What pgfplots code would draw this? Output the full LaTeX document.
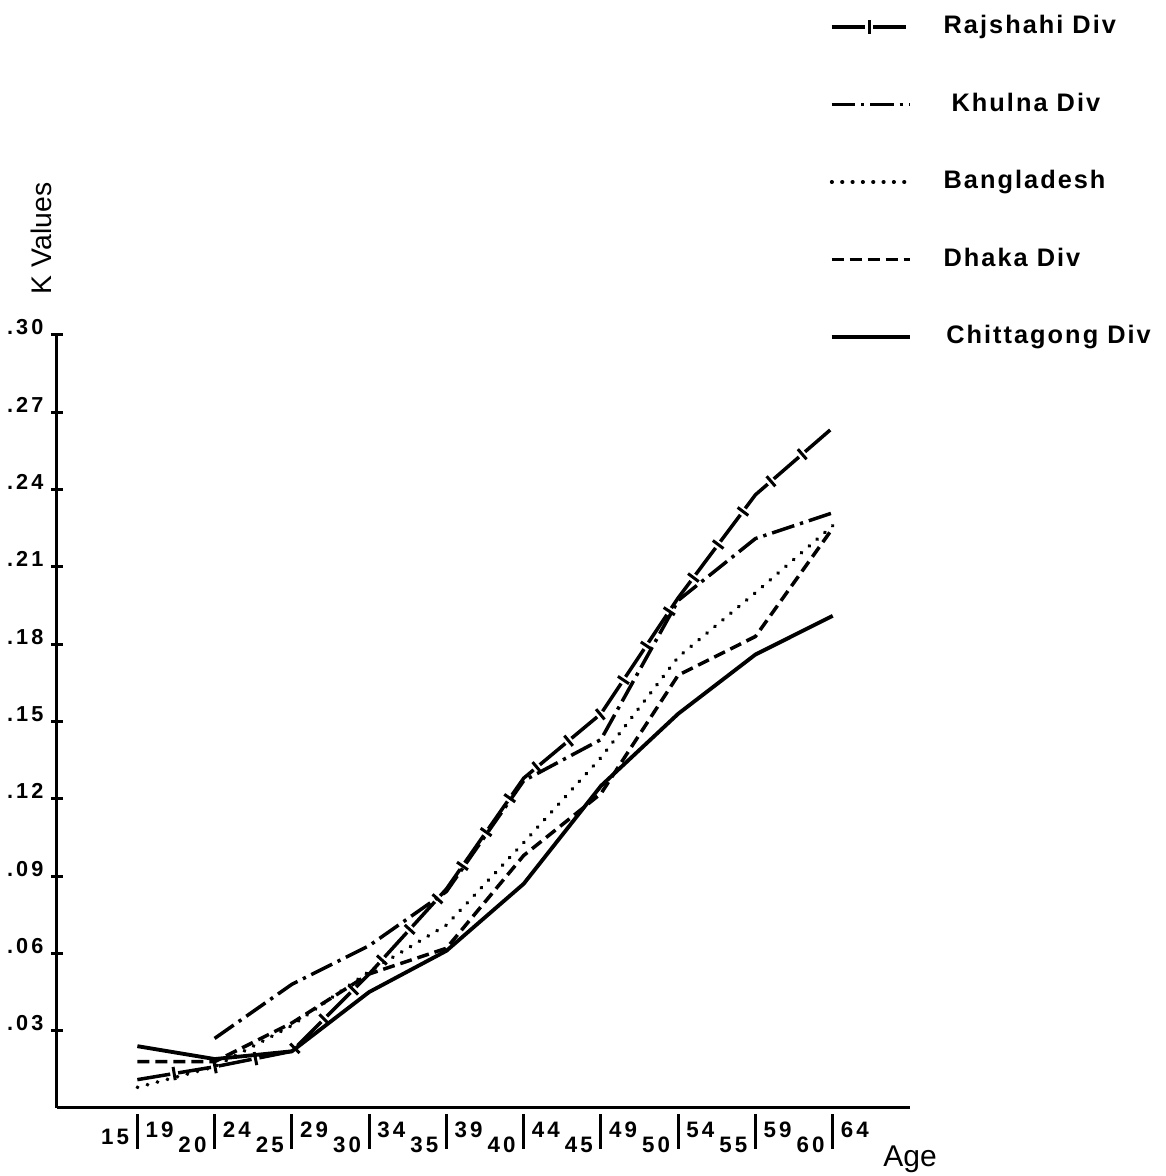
\documentclass[border=0pt]{standalone}
\usepackage{fontspec}
\setmainfont{Liberation Sans}
\newfontfamily\lgfont[LetterSpace=8]{Liberation Sans}
\newfontfamily\tkfont[LetterSpace=14]{Liberation Sans}
\usepackage{pgfplots}
\pgfplotsset{compat=1.18}
\usetikzlibrary{decorations.markings}
\newcommand{\xl}[3][11.4pt]{\makebox[0pt]{\llap{\raisebox{-#1}{#2}\hspace{2pt}}\rule[-10.5pt]{0.9pt}{10.5pt}\rlap{\hspace{2pt}\raisebox{-6.9pt}{#3}}}}
\tikzset{
 raj/.style={line width=1.05pt, dash pattern=on 10pt off 2.4pt, postaction={decorate},
   decoration={markings, mark=between positions 11.2pt and 1 step 12.4pt with {\draw[solid, line width=0.9pt] (0pt,-2pt)--(0pt,2pt);}}},
 khu/.style={line width=1.05pt, dash pattern=on 7pt off 1.8pt on 1pt off 1.8pt},
 ban/.style={line width=1.15pt, line cap=round, dash pattern=on 0.1pt off 3pt},
 dha/.style={line width=1.05pt, dash pattern=on 3.6pt off 1.8pt},
 chi/.style={line width=1.15pt},
}
\begin{document}
\begin{tikzpicture}
\path[use as bounding box] (-17.1pt,-20.4pt) rectangle (332.7pt,332.4pt);
\begin{axis}[
 at={(0pt,0pt)}, anchor=south west,
 scale only axis, width=255.9pt, height=231.9pt,
 xmin=-1.04, xmax=10, ymin=0, ymax=0.30,
 clip=false,
 axis lines=left,
 axis line style={-, line width=0.9pt},
 xtick={0,1,2,3,4,5,6,7,8,9},
 xticklabels={{\xl[9pt]{15}{19}},{\xl{20}{24}},{\xl{25}{29}},{\xl{30}{34}},{\xl{35}{39}},{\xl{40}{44}},{\xl{45}{49}},{\xl{50}{54}},{\xl{55}{59}},{\xl{60}{64}}},
 xtick style={draw=none},
 xticklabel style={anchor=base, inner sep=0pt, font=\tkfont\bfseries\fontsize{6.7pt}{7pt}\selectfont},
 ytick={0.03,0.06,0.09,0.12,0.15,0.18,0.21,0.24,0.27,0.30},
 yticklabels={.03,.06,.09,.12,.15,.18,.21,.24,.27,.30},
 tick align=center, major tick length=3.6pt,
 tick style={line width=0.9pt, black},
 yticklabel style={anchor=base east, inner sep=0pt, xshift=-2.1pt, font=\tkfont\bfseries\fontsize{6.5pt}{7pt}\selectfont},
 every axis y label/.style={at={(axis description cs:-0.018,1.125)}, anchor=center, rotate=90, font=\fontsize{8.5pt}{10pt}\selectfont},
 ylabel={K Values},
 every axis x label/.style={at={(axis description cs:1.0,-0.067)}, anchor=center, font=\fontsize{9pt}{10pt}\selectfont},
 xlabel={Age},
 legend style={at={(axis description cs:0.906,1.4157)}, anchor=north west, draw=none, fill=none,
   inner sep=0pt, outer sep=0pt, row sep=15.25pt, column sep=9.6pt,
   nodes={inner sep=0pt, text height=6pt, text depth=2pt, font=\lgfont\bfseries\fontsize{7.6pt}{9pt}\selectfont}},
 legend cell align=left,
 legend image code/.code={\draw[#1] (0pt,0pt) -- (23.4pt,0pt);},
]
\addplot[raj] coordinates {(0,0.011) (1,0.016) (2,0.022) (3,0.052) (4,0.085) (5,0.128) (6,0.153) (7,0.198) (8,0.238) (9,0.264)};
\addlegendentry{Rajshahi Div}
\addplot[khu] coordinates {(1,0.027) (2,0.048) (3,0.063) (4,0.084) (5,0.127) (6,0.143) (7,0.197) (8,0.221) (9,0.231)};
\addlegendentry{\hspace{2.4pt}Khulna Div}
\addplot[ban] coordinates {(0,0.008) (1,0.016) (2,0.032) (3,0.053) (4,0.071) (5,0.103) (6,0.136) (7,0.175) (8,0.200) (9,0.226)};
\addlegendentry{Bangladesh}
\addplot[dha] coordinates {(0,0.018) (1,0.018) (2,0.033) (3,0.052) (4,0.062) (5,0.098) (6,0.122) (7,0.168) (8,0.183) (9,0.225)};
\addlegendentry{Dhaka Div}
\addplot[chi] coordinates {(0,0.024) (1,0.019) (2,0.022) (3,0.045) (4,0.061) (5,0.087) (6,0.125) (7,0.153) (8,0.176) (9,0.191)};
\addlegendentry{\hspace{0.8pt}Chittagong Div}
\end{axis}
\end{tikzpicture}
\end{document}
